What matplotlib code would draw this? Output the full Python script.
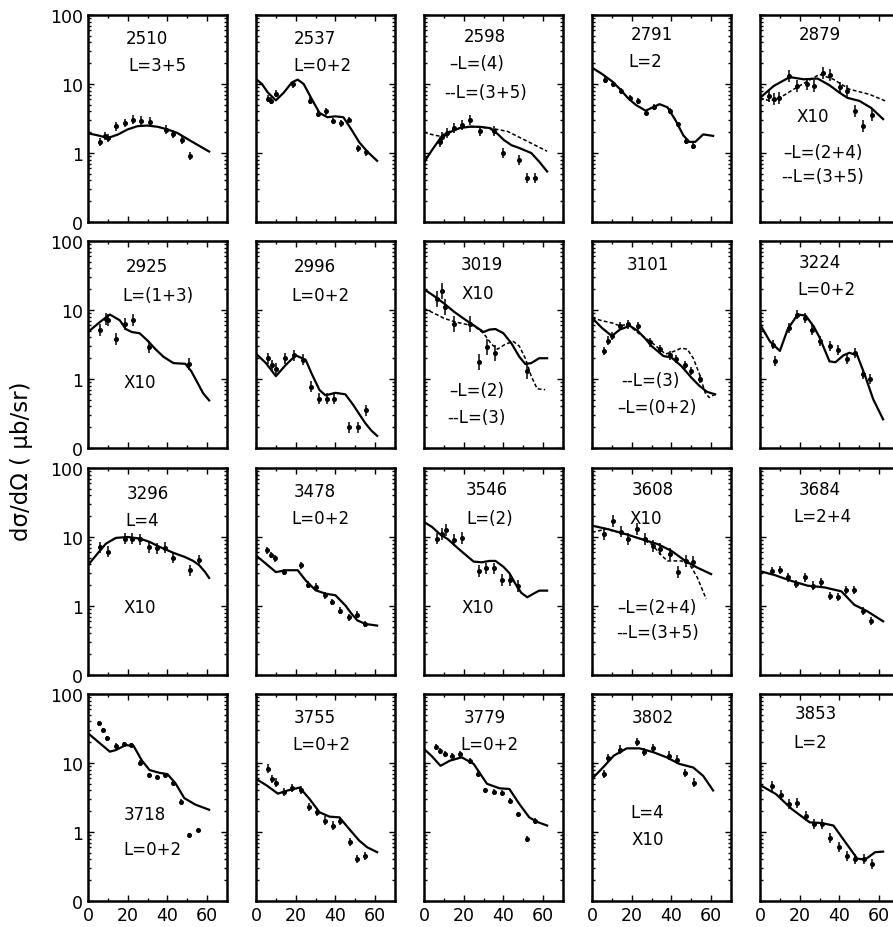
import numpy as np
import matplotlib
matplotlib.use('Agg')
import matplotlib.pyplot as plt
from matplotlib.ticker import MultipleLocator, LogLocator, NullFormatter, FixedLocator, FixedFormatter

# excitation energies (keV) of the 20 panels, row by row
energies = ['2510', '2537', '2598', '2791', '2879',
            '2925', '2996', '3019', '3101', '3224',
            '3296', '3478', '3546', '3608', '3684',
            '3718', '3755', '3779', '3802', '3853']

panel_texts = [
    ['2510', 'L=3+5'],
    ['2537', 'L=0+2'],
    ['2598', '\u2013L=(4)', '--L=(3+5)'],
    ['2791', 'L=2'],
    ['2879', 'X10', '\u2013L=(2+4)', '--L=(3+5)'],
    ['2925', 'L=(1+3)', 'X10'],
    ['2996', 'L=0+2'],
    ['3019', 'X10', '\u2013L=(2)', '--L=(3)'],
    ['3101', '--L=(3)', '\u2013L=(0+2)'],
    ['3224', 'L=0+2'],
    ['3296', 'L=4', 'X10'],
    ['3478', 'L=0+2'],
    ['3546', 'L=(2)', 'X10'],
    ['3608', 'X10', '\u2013L=(2+4)', '--L=(3+5)'],
    ['3684', 'L=2+4'],
    ['3718', 'L=0+2'],
    ['3755', 'L=0+2'],
    ['3779', 'L=0+2'],
    ['3802', 'L=4', 'X10'],
    ['3853', 'L=2'],
]

# measured points: angle (deg) and cross section (ub/sr)
data_ang = [
    [6, 8.5, 10, 14.3, 18.5, 22.7, 26.8, 31, 39.3, 42.7, 47.3, 51.3],
    [6.2, 7.8, 10.3, 18.7, 27, 31.2, 35, 38.7, 42.8, 47, 51.2, 55.3],
    [8.3, 9.2, 11.7, 15, 19.2, 23.3, 28.3, 35, 39.7, 48, 52, 55.8],
    [6.7, 10.8, 14.7, 19.2, 23, 27, 31.3, 39.2, 43.3, 47.5, 50.8],
    [4.5, 7, 9.5, 14.5, 18.7, 23.7, 27, 31.7, 35.3, 40.3, 44, 47.8, 52, 56.2],
    [6, 9, 10.2, 14.3, 18.5, 22.7, 30.7, 51],
    [6.2, 8.3, 10, 14.8, 19.3, 23.5, 27.7, 31.8, 35.7, 39.3, 47, 51.2, 55.3],
    [6.7, 9.2, 10.8, 15, 23.3, 27.5, 31.7, 35.8, 51.7],
    [5.8, 8.3, 10, 14.2, 18.3, 23, 29.2, 34.2, 39.2, 42.5, 46.7, 50, 54.2],
    [6.7, 7.8, 14.5, 18.7, 22.8, 26.2, 30.3, 35.3, 39.5, 43.7, 47.8, 52, 55.3],
    [6, 10.2, 18.5, 22.3, 26.3, 30.7, 34.7, 39, 43, 51.3, 55.7],
    [5.3, 7.8, 9.5, 14, 22.5, 26.2, 30.3, 34.5, 38.2, 42.3, 46.7, 50.8, 55],
    [6.7, 9, 11, 15, 19.2, 27.5, 31.3, 35, 39.2, 43.3, 47.5],
    [5.8, 10.8, 14.5, 18.3, 22.5, 26.7, 30.8, 34.2, 39.2, 43.3, 47.5, 50.8],
    [5.8, 10, 14.2, 18.3, 22.5, 26.7, 30.8, 35, 39.2, 43.3, 47.5, 51.7, 55.8],
    [5.7, 7.7, 9.7, 14, 18, 21.8, 26.3, 30.5, 34.7, 38.8, 43, 46.8, 51, 55.2],
    [5.8, 8.3, 10, 14.2, 18.3, 22.5, 26.7, 30.5, 34.5, 38.7, 42.5, 47.2, 50.8, 55],
    [5.8, 8.3, 10.5, 14.2, 18.3, 23.3, 27, 30.8, 35, 39.2, 43.3, 47.5, 51.7, 55.8],
    [6.2, 8.3, 14.2, 22.5, 26.2, 30.5, 38.8, 42.8, 47, 51.2],
    [6, 10.5, 14.7, 18.8, 23, 27.2, 31, 35.2, 39.7, 43.8, 48, 52.2, 56.3],
]
data_xs = [
    [1.43, 1.78, 1.65, 2.43, 2.7, 3.04, 2.95, 2.85, 2.18, 1.9, 1.55, 0.91],
    [6.1, 5.7, 7.2, 9.9, 5.7, 3.7, 4.0, 2.9, 2.7, 3.0, 1.17, 1.02],
    [1.43, 1.7, 1.95, 2.3, 2.57, 3.0, 2.1, 2.1, 1.0, 0.8, 0.43, 0.43],
    [11.3, 10, 7.9, 6.3, 5.7, 3.85, 4.6, 4.1, 2.6, 1.5, 1.26],
    [6.7, 6.0, 6.3, 13, 9.4, 9.9, 9.4, 14.6, 13.5, 8.9, 7.9, 4.1, 2.5, 3.6],
    [5.1, 7.5, 7.2, 3.85, 6.3, 7.1, 2.9, 1.66],
    [2.0, 1.57, 1.41, 2.0, 2.2, 1.9, 0.77, 0.52, 0.52, 0.52, 0.2, 0.2, 0.35],
    [14.6, 19, 11, 6.3, 6.3, 1.75, 2.9, 2.4, 1.3],
    [2.55, 3.6, 4.2, 5.9, 6.2, 5.9, 3.4, 2.7, 2.2, 1.93, 1.6, 1.3, 0.99],
    [3.16, 1.8, 5.5, 8.6, 7.7, 5.2, 3.6, 3.0, 2.6, 1.93, 2.4, 1.17, 0.99],
    [7.1, 6.1, 9.5, 9.5, 9.3, 7.1, 6.9, 7.0, 5.0, 3.3, 4.6],
    [6.4, 5.5, 4.9, 3.1, 3.9, 2.04, 1.9, 1.43, 1.14, 0.86, 0.69, 0.75, 0.55],
    [9.5, 11, 12.8, 9.1, 9.7, 3.2, 3.5, 3.5, 2.4, 2.4, 1.93],
    [11, 17, 12, 9.4, 13, 9.4, 7.5, 6.7, 5.7, 3.1, 4.5, 4.3],
    [3.2, 3.3, 2.6, 2.08, 2.6, 1.97, 2.2, 1.41, 1.34, 1.7, 1.7, 0.84, 0.6],
    [37.6, 30, 22.7, 17.8, 18.6, 18.2, 10.1, 6.7, 6.3, 6.7, 5.1, 2.75, 0.9, 1.07],
    [8.3, 5.9, 5.2, 3.8, 4.3, 4.1, 2.3, 1.93, 1.46, 1.24, 1.43, 0.71, 0.41, 0.45],
    [16.9, 15.1, 13.5, 12.8, 13.5, 10.8, 6.9, 4.0, 3.84, 3.7, 2.85, 1.8, 0.79, 1.46],
    [6.9, 11.7, 15.6, 20, 14.3, 16.5, 12.8, 11.2, 7.2, 5.2],
    [4.7, 3.4, 2.55, 2.6, 1.73, 1.32, 1.32, 0.82, 0.6, 0.45, 0.40, 0.40, 0.34],
]
# relative error factor of the points in each panel
err_factor = [1.15, 1.12, 1.18, 1.1, 1.22, 1.22, 1.2, 1.3, 1.15, 1.18,
              1.2, 1.12, 1.22, 1.22, 1.15, 1.08, 1.15, 1.1, 1.15, 1.18]

# DWBA curves (solid)
solid_ang = [
    [0, 5, 10, 15, 20, 25, 30, 35, 40, 45, 50, 55, 61],
    [0, 3, 6, 10, 14, 18, 21, 24, 28, 32, 36, 40, 44, 48, 52, 56, 61],
    [0, 4, 8, 13, 18, 23, 28, 33, 37, 40, 44, 48, 54, 58, 62],
    [0, 5, 10, 14, 18, 22, 27, 30, 34, 38, 42, 46, 49, 52, 56, 61],
    [0, 7, 15, 22, 29, 35, 40, 44, 50, 56, 62],
    [0, 6, 11, 16, 19, 22, 26, 30, 34, 38, 43, 49, 52, 55, 58, 61],
    [0, 5, 10, 15, 20, 25, 28, 32, 35, 40, 45, 49, 52, 55, 58, 61],
    [0, 5, 10, 15, 20, 25, 30, 33, 36, 40, 44, 48, 51, 54, 58, 62],
    [0, 5, 10, 14, 19, 23, 27, 30, 36, 40, 45, 50, 54, 58, 62],
    [0, 5, 10, 14, 19, 23, 27, 30, 35, 38, 42, 45, 49, 53, 57, 62],
    [0, 4, 9, 14, 20, 26, 31, 36, 43, 49, 53, 56, 59, 61],
    [0, 5, 10, 15, 21, 25, 30, 35, 40, 45, 48, 51, 55, 61],
    [0, 4, 8, 12, 17, 21, 25, 29, 33, 36, 40, 43, 46, 49, 52, 55, 58, 62],
    [0, 8, 17, 25, 33, 40, 47, 53, 60],
    [0, 7.5, 16, 24, 32.5, 41, 47.5, 54, 62],
    [0, 6, 11, 14, 19, 23, 27, 31, 36, 40, 44, 48.5, 54, 61],
    [0, 5.5, 11, 16, 22, 27, 32, 37, 42, 47, 52, 56, 61],
    [0, 4, 8.3, 13, 19, 25, 31.7, 38, 43, 48, 53, 57, 62],
    [0, 5.5, 11, 17.5, 24, 31, 37.5, 44, 51, 56, 61],
    [0, 8, 16, 25, 31, 37, 43, 49, 53, 58, 62],
]
solid_xs = [
    [1.93, 1.8, 1.65, 1.85, 2.2, 2.45, 2.5, 2.4, 2.2, 1.95, 1.6, 1.32, 1.05],
    [11.8, 10, 7.5, 5.8, 7.5, 10.5, 11.6, 10, 6.1, 3.8, 3.3, 3.4, 3.3, 2.2, 1.43, 1.05, 0.77],
    [0.73, 1.1, 1.6, 2.0, 2.3, 2.4, 2.4, 2.3, 1.9, 1.56, 1.3, 1.18, 1.0, 0.75, 0.54],
    [17.3, 14, 11, 8.5, 6.3, 5.0, 4.1, 4.5, 5.1, 4.6, 3.0, 1.8, 1.45, 1.45, 1.86, 1.77],
    [6.3, 9.4, 12.6, 11.7, 12, 9.6, 7.5, 6.3, 5.7, 4.5, 3.1],
    [4.8, 6.7, 8.6, 7.1, 5.3, 4.8, 4.6, 3.6, 2.7, 2.1, 1.7, 1.66, 1.3, 0.9, 0.62, 0.49],
    [2.33, 1.7, 1.1, 1.6, 2.2, 1.9, 1.2, 0.69, 0.58, 0.63, 0.6, 0.42, 0.31, 0.23, 0.18, 0.15],
    [20, 16, 12.5, 9.5, 7.5, 6, 4.8, 5.2, 5.3, 4.6, 3.3, 2.1, 1.65, 1.7, 2.0, 2.0],
    [7.7, 5.5, 4.2, 5.2, 5.9, 5.0, 3.8, 3.0, 2.15, 2.05, 1.54, 1.05, 0.8, 0.65, 0.6],
    [6.2, 3.5, 2.55, 5.3, 8.6, 8.3, 5.8, 4.0, 1.8, 1.75, 2.2, 2.4, 2.2, 1.1, 0.51, 0.26],
    [3.9, 5.4, 8.0, 9.7, 10, 9.5, 8.5, 7.2, 5.9, 5.1, 4.5, 3.9, 3.1, 2.55],
    [5.4, 4.1, 3.1, 3.3, 3.3, 2.35, 1.69, 1.51, 1.43, 1.02, 0.78, 0.62, 0.55, 0.52],
    [16.5, 14, 11, 9.3, 6.9, 5.5, 4.4, 4.3, 4.5, 4.5, 3.7, 3.0, 2.1, 1.55, 1.34, 1.5, 1.67, 1.67],
    [14.6, 13, 11, 9.3, 7.9, 6.3, 4.5, 3.6, 2.9],
    [3.2, 2.8, 2.3, 1.97, 1.86, 1.63, 1.04, 0.84, 0.6],
    [27, 19.3, 14.6, 15.4, 18.2, 17.6, 11, 7.9, 7.2, 6.9, 5.1, 3.1, 2.5, 2.1],
    [5.9, 4.7, 3.6, 4.0, 4.4, 3.0, 1.93, 1.67, 1.63, 1.1, 0.75, 0.6, 0.51],
    [16, 12.5, 9.1, 10.8, 12.1, 9.7, 5.0, 4.3, 4.2, 2.55, 1.63, 1.4, 1.24],
    [5.9, 8.6, 12.8, 16.3, 16.3, 14.3, 12.1, 9.7, 8.6, 6.5, 4.0],
    [4.8, 3.55, 2.15, 1.38, 1.35, 1.24, 0.71, 0.41, 0.40, 0.51, 0.52],
]

# second (dashed) curves, keyed by panel index
dashed_ang = {
    2: [0, 4, 8, 15, 23, 33, 42, 52, 62],
    4: [0, 5, 10, 17, 24, 30, 37, 45, 55, 63],
    7: [0, 5, 10, 15, 20, 25, 30, 34, 37, 41, 45, 48, 51, 54, 57, 61],
    8: [0, 5, 10, 14, 18, 23, 30, 37, 41, 45, 48, 51, 54, 57, 59, 62],
    13: [0, 7, 17, 25, 30, 35, 38, 45, 49, 53, 57.5],
}
dashed_xs = {
    2: [2.0, 1.85, 1.75, 2.2, 2.45, 2.3, 2.06, 1.48, 1.06],
    4: [6.3, 5.7, 6.3, 8.4, 11, 13.8, 11.7, 8.4, 7.1, 5.7],
    7: [10.5, 9, 7.6, 6.8, 6.3, 5.9, 4.6, 3.2, 2.7, 3.2, 3.5, 3.0, 2.0, 1.1, 0.72, 0.7],
    8: [7.7, 7.0, 6.5, 5.9, 6.2, 4.7, 3.4, 2.3, 2.5, 2.8, 2.7, 2.0, 1.2, 0.63, 0.54, 0.6],
    13: [11.7, 13, 11, 9.3, 7.9, 5.4, 4.5, 4.5, 4.1, 2.6, 1.26],
}

# text placement inside each panel (axes fraction)
text_pos = [
    [(0.42, 0.89), (0.50, 0.76)],
    [(0.42, 0.89), (0.48, 0.76)],
    [(0.44, 0.90), (0.38, 0.77), (0.44, 0.63)],
    [(0.43, 0.91), (0.38, 0.78)],
    [(0.43, 0.91), (0.38, 0.51), (0.45, 0.34), (0.45, 0.22)],
    [(0.42, 0.88), (0.50, 0.74), (0.37, 0.32)],
    [(0.42, 0.88), (0.46, 0.74)],
    [(0.415, 0.89), (0.39, 0.75), (0.38, 0.28), (0.38, 0.15)],
    [(0.40, 0.89), (0.42, 0.33), (0.47, 0.20)],
    [(0.43, 0.90), (0.48, 0.77)],
    [(0.43, 0.88), (0.39, 0.75), (0.37, 0.33)],
    [(0.42, 0.89), (0.46, 0.76)],
    [(0.45, 0.90), (0.47, 0.76), (0.39, 0.33)],
    [(0.44, 0.90), (0.39, 0.76), (0.47, 0.33), (0.47, 0.21)],
    [(0.43, 0.90), (0.45, 0.77)],
    [(0.41, 0.42), (0.46, 0.25)],
    [(0.42, 0.89), (0.47, 0.76)],
    [(0.44, 0.89), (0.47, 0.76)],
    [(0.44, 0.89), (0.40, 0.43), (0.40, 0.30)],
    [(0.40, 0.91), (0.36, 0.77)],
]

W, H = 893, 928
fig = plt.figure(figsize=(W / 100, H / 100), dpi=100)
col_left = [88, 256, 424, 592, 760]
row_top = [16, 242, 469, 695]
pw, ph = 139, 207

for k in range(20):
    r, c = divmod(k, 5)
    ax = fig.add_axes([col_left[c] / W, 1 - (row_top[r] + ph) / H, pw / W, ph / H])
    ax.set_yscale('log')
    ax.set_xlim(0, 70)
    ax.set_ylim(0.1, 100)

    ax.plot(solid_ang[k], solid_xs[k], color='black', lw=1.6, solid_joinstyle='round')
    if k in dashed_ang:
        ax.plot(dashed_ang[k], dashed_xs[k], color='black', lw=1.1, ls=(0, (2.5, 1.5)))

    y = np.array(data_xs[k])
    f = err_factor[k]
    ax.errorbar(data_ang[k], y, yerr=[y - y / f, y * f - y], fmt='o', ms=2.6,
                color='black', elinewidth=1.1, capsize=0)

    for txt, (tx, ty) in zip(panel_texts[k], text_pos[k]):
        ax.text(tx, ty, txt, transform=ax.transAxes, ha='center', va='center', fontsize=12)

    ax.xaxis.set_major_locator(MultipleLocator(20))
    ax.xaxis.set_minor_locator(MultipleLocator(10))
    ax.yaxis.set_major_locator(FixedLocator([0.1, 1, 10, 100]))
    ax.yaxis.set_minor_locator(LogLocator(base=10, subs=np.arange(2, 10) * 1.0))
    ax.yaxis.set_minor_formatter(NullFormatter())
    ax.tick_params(which='both', direction='in', top=True, right=True, width=1.0, labelsize=12.5)
    ax.tick_params(which='major', length=4)
    ax.tick_params(which='minor', length=2.5)
    for s in ax.spines.values():
        s.set_linewidth(1.8)

    if c == 0:
        ax.yaxis.set_major_formatter(FixedFormatter(['0', '1', '10', '100']))
    else:
        ax.set_yticklabels([])
    if r == 3:
        ax.set_xticks([0, 20, 40, 60])
        ax.set_xticklabels(['0', '20', '40', '60'])
    else:
        ax.set_xticklabels([])

fig.text(0.024, 0.503, 'd\u03c3/d\u03a9 ( \u03bcb/sr)', rotation=90, ha='center', va='center', fontsize=16.5)

plt.savefig('out.png', dpi=100)
